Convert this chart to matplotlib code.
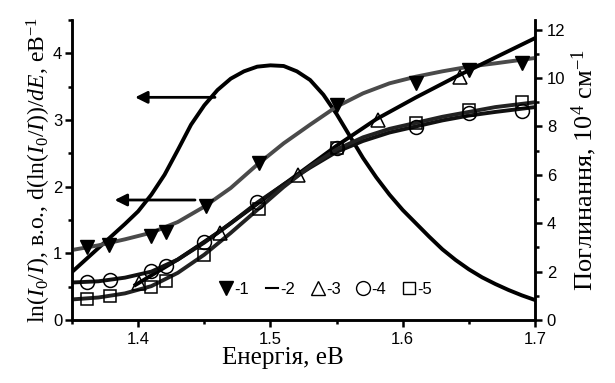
import matplotlib
matplotlib.use("Agg")
import matplotlib.pyplot as plt
from matplotlib.lines import Line2D
from matplotlib.ticker import MultipleLocator, FormatStrFormatter

plt.rcParams['font.family'] = ['Liberation Sans', 'DejaVu Sans']
plt.rcParams['mathtext.fontset'] = 'custom'
plt.rcParams['mathtext.rm'] = 'Liberation Serif'
plt.rcParams['mathtext.it'] = 'Liberation Serif:italic'

# ---- markers (measured points) ----
E1 = [1.361, 1.378, 1.410, 1.421, 1.451, 1.491, 1.550, 1.610, 1.650, 1.690]
y1 = [1.09, 1.12, 1.26, 1.32, 1.71, 2.35, 3.22, 3.55, 3.75, 3.85]          # left axis

E3 = [1.401, 1.462, 1.521, 1.581, 1.643]
y3 = [1.53, 3.6, 6.0, 8.26, 10.04]                                         # right axis

E4 = [1.361, 1.379, 1.410, 1.421, 1.450, 1.490, 1.550, 1.610, 1.650, 1.690]
y4 = [1.57, 1.65, 2.02, 2.23, 3.22, 4.88, 7.1, 7.98, 8.55, 8.65]           # right axis

E5 = [1.361, 1.379, 1.410, 1.421, 1.450, 1.491, 1.550, 1.610, 1.650, 1.690]
y5 = [0.87, 0.99, 1.36, 1.61, 2.69, 4.59, 7.1, 8.14, 8.68, 9.0]            # right axis

# ---- fitted / drawn curves ----
E1_fit = [1.35, 1.37, 1.39, 1.41, 1.43, 1.45, 1.47, 1.49, 1.51, 1.53, 1.55,
          1.57, 1.59, 1.61, 1.63, 1.65, 1.67, 1.70]
y1_fit = [1.05, 1.12, 1.21, 1.31, 1.47, 1.70, 1.98, 2.33, 2.65, 2.93, 3.20,
          3.40, 3.55, 3.65, 3.73, 3.80, 3.85, 3.93]

E2 = [1.35, 1.36, 1.37, 1.38, 1.39, 1.40, 1.41, 1.42, 1.43, 1.44, 1.45,
      1.46, 1.47, 1.48, 1.49, 1.50, 1.51, 1.52, 1.53, 1.54, 1.55, 1.56,
      1.57, 1.58, 1.59, 1.60, 1.61, 1.62, 1.63, 1.64, 1.65, 1.66, 1.67,
      1.68, 1.69, 1.70]
y2 = [0.72, 0.90, 1.08, 1.26, 1.44, 1.63, 1.88, 2.18, 2.55, 2.93, 3.22,
      3.45, 3.62, 3.73, 3.80, 3.82, 3.81, 3.73, 3.60, 3.38, 3.09, 2.76,
      2.43, 2.14, 1.88, 1.65, 1.45, 1.25, 1.06, 0.90, 0.76, 0.64, 0.54,
      0.45, 0.37, 0.30]                                                     # left axis

E3_fit = [1.398, 1.43, 1.46, 1.49, 1.52, 1.55, 1.58, 1.61, 1.64, 1.67, 1.70]
y3_fit = [1.45, 2.5, 3.6, 4.8, 6.0, 7.2, 8.3, 9.2, 10.05, 10.85, 11.65]

E45_fit = [1.35, 1.37, 1.39, 1.41, 1.43, 1.45, 1.47, 1.49, 1.51, 1.53, 1.55,
           1.57, 1.59, 1.61, 1.63, 1.65, 1.67, 1.70]
y4_fit = [1.55, 1.60, 1.75, 2.00, 2.50, 3.20, 4.00, 4.85, 5.60, 6.30, 6.95,
          7.40, 7.75, 8.00, 8.25, 8.45, 8.60, 8.80]
y5_fit = [0.85, 0.93, 1.10, 1.40, 1.95, 2.70, 3.60, 4.55, 5.50, 6.35, 7.05,
          7.55, 7.90, 8.15, 8.40, 8.60, 8.80, 9.00]

legend_labels = ['-1', '-2', '-3', '-4', '-5']

fig = plt.figure(figsize=(6.15, 3.83), dpi=100)
ax = fig.add_axes([72/615, 1-320/383, (535-72)/615, 300/383])
ax2 = ax.twinx()

lw = 2.8
ax.plot(E2, y2, color='black', lw=lw, zorder=3, solid_joinstyle='round')
ax.plot(E1_fit, y1_fit, color='#4a4a4a', lw=lw, zorder=3, solid_joinstyle='round')
ax.plot(E1, y1, 'v', color='black', ms=10, zorder=4)

ax2.plot(E3_fit, y3_fit, color='black', lw=lw, solid_joinstyle='round')
ax2.plot(E45_fit, y4_fit, color='#111111', lw=lw, solid_joinstyle='round')
ax2.plot(E45_fit, y5_fit, color='#222222', lw=lw, solid_joinstyle='round')
ax2.plot(E3, y3, '^', mfc='none', mec='black', mew=1.1, ms=10)
ax2.plot(E4, y4, 'o', mfc='none', mec='black', mew=1.1, ms=10)
ax2.plot(E5, y5, 's', mfc='none', mec='black', mew=1.1, ms=9)

ax.set_xlim(1.35, 1.7)
ax.set_ylim(0, 4.5)
ax2.set_ylim(0, 12.4)

# arrows
ax.annotate('', xy=(1.3977, 3.34), xytext=(1.4581, 3.34),
            arrowprops=dict(arrowstyle='-|>', color='black', lw=2,
                            mutation_scale=18, shrinkA=0, shrinkB=0))
ax.annotate('', xy=(1.3822, 1.80), xytext=(1.443, 1.80),
            arrowprops=dict(arrowstyle='-|>', color='black', lw=2,
                            mutation_scale=18, shrinkA=0, shrinkB=0))

for a in (ax, ax2):
    a.spines['top'].set_visible(False)
    for s in ('left', 'right', 'bottom'):
        a.spines[s].set_linewidth(1.8)
    a.tick_params(which='major', direction='out', length=5, width=1.8, labelsize=12)
    a.tick_params(which='minor', direction='out', length=3, width=1.8)

ax.xaxis.set_major_locator(MultipleLocator(0.1))
ax.xaxis.set_minor_locator(MultipleLocator(0.05))
ax.yaxis.set_major_locator(MultipleLocator(1))
ax.yaxis.set_minor_locator(MultipleLocator(0.5))
ax2.yaxis.set_major_locator(MultipleLocator(2))
ax2.yaxis.set_minor_locator(MultipleLocator(1))
ax.xaxis.set_major_formatter(FormatStrFormatter('%.1f'))
ax.tick_params(axis='y', pad=2)

serif = ['Liberation Serif', 'DejaVu Serif']
ax.set_xlabel('Енергія, еВ', fontsize=18, family=serif)
ax.xaxis.set_label_coords(0.456, -0.09)
ax.set_ylabel(r'ln($I_0/I$), в.о., d(ln($I_0/I$))/$dE$, еВ$^{-1}$',
              fontsize=17, family=serif, labelpad=0)
ax2.set_ylabel(r'Поглинання, 10$^4$ см$^{-1}$', fontsize=19, family=serif, labelpad=3)

handles = [
    Line2D([], [], ls='none', marker='v', color='black', ms=10),
    Line2D([], [], color='black', lw=1.5),
    Line2D([], [], ls='none', marker='^', mfc='none', mec='black', ms=10),
    Line2D([], [], ls='none', marker='o', mfc='none', mec='black', ms=10),
    Line2D([], [], ls='none', marker='s', mfc='none', mec='black', ms=9),
]
leg = ax.legend(handles, legend_labels, ncol=5, loc='center',
                bbox_to_anchor=(0.549, 0.103), frameon=False,
                handlelength=0.7, handletextpad=0.15, columnspacing=1.0,
                fontsize=12)

fig.savefig('out.png', dpi=100)
